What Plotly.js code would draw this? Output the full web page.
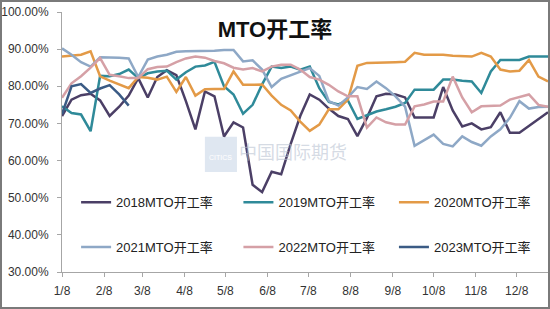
<!DOCTYPE html>
<html><head><meta charset="utf-8">
<script src="https://cdn.plot.ly/plotly-3.0.1.min.js"></script>
<style>
html,body{margin:0;padding:0;background:#fff;}
#wrap{position:relative;width:550px;height:309px;}
#chart{width:550px;height:309px;}
#frame{position:absolute;left:0;top:0;width:550px;height:309px;box-sizing:border-box;border:2px solid #7a7a7a;pointer-events:none;}
</style>
</head><body>
<div id="wrap"><div id="chart"></div><div id="frame"></div></div>
<script>
// weekly observation dates (generic year), ticks and labels
const firstWeek = '2001-01-08';
const weekCount = 52;
const tickDates = ['2001-01-08','2001-02-08','2001-03-08','2001-04-08','2001-05-08','2001-06-08','2001-07-08','2001-08-08','2001-09-08','2001-10-08','2001-11-08','2001-12-08'];
const tickLabels = ['1/8','2/8','3/8','4/8','5/8','6/8','7/8','8/8','9/8','10/8','11/8','12/8'];
const yTicks = [30,40,50,60,70,80,90,100];
const yTickLabels = ['30.00%','40.00%','50.00%','60.00%','70.00%','80.00%','90.00%','100.00%'];

const seriesNames = ['2018MTO开工率','2019MTO开工率','2020MTO开工率','2021MTO开工率','2022MTO开工率','2023MTO开工率'];

const v2018 = [72,76.4,77.6,78,76.2,72,74.5,77.5,82.2,77,82.5,84.3,83,76,68.4,78.6,77.3,66.5,70.3,68.9,53.5,51.5,57,56.3,64.5,72,77.8,76.4,74,72,71.2,66.6,71.5,77.3,78,77.8,77,71.6,71.6,71.6,79.8,73.5,69.2,70,68.4,69,73,67.5,67.5,69.3,71.3,73];
const v2019 = [74.6,72.8,72.4,67.9,82.8,82.7,83.3,84.5,82.2,83.5,84,84.2,81.8,83.8,85.3,85.6,86.6,80,77.8,72.6,75,80.5,85.3,84.9,85.3,84.5,85.3,79.5,75.8,75.1,76.2,71.2,72.2,73.2,73.8,74.5,75.5,79.1,79.1,79.1,81.8,81.8,81.5,81.3,78.2,84,87.1,87.1,87.1,88,88,88];
const v2020 = [88,88.3,88.5,89.4,82.7,81.5,80.4,79.5,82.5,82.3,81.8,82.6,78.5,82.5,77.5,79.2,79.3,79.3,84,80.4,80.4,80.5,77.5,75,73.5,70.5,68,69.7,73.8,73.8,76.4,85.5,86.3,86.3,86.4,86.5,86.6,89,88.5,88.5,88.5,88.2,88,88,89,88,84.5,84,84.2,87.1,82.6,81.3];
const v2021 = [90.2,88.5,86.5,85.3,87.8,87.8,87.7,87.5,82.5,87.2,88,88.5,89.3,89.4,89.4,89.5,89.6,89.8,89.8,86.7,87,84.5,79.8,82,83,84,84.9,82.8,76,74.8,77,79.8,79.3,81.3,79.5,77.3,74.5,64,65.5,67,64.5,63.8,66.5,65,64,66.5,68.4,71.5,76,74,74.4,74.5];
const v2022 = [76.9,80.8,82.7,85,87.6,83.1,82.7,82.2,82.2,84.6,85.2,85.3,86.5,87.5,88,87.7,86.8,86.2,85,84.5,84.9,84,85.3,85.8,85.8,84.5,82.5,81.8,80.4,78.6,77.3,77.3,68.9,71.6,70.3,69.7,69.7,74.6,75.1,75.9,75.9,82.6,77,73,74.6,74.6,74.8,76.4,77.2,77.8,75,74.5];
const v2023 = [72.5,80,80.6,78.2,79.4,80.3,77.8,74.8];

const colors = ['#4b3f66','#2f8a99','#e39a47','#8ea8c6','#d5a0a6','#3b5b85'];
const legendIds = ['legend','legend2','legend3','legend','legend2','legend3'];

function weekDates(n){
  const out=[]; const d0=new Date(firstWeek+'T00:00:00Z');
  for(let i=0;i<n;i++){const d=new Date(d0.getTime()+i*7*86400000); out.push(d.toISOString().slice(0,10));}
  return out;
}
const dates = weekDates(weekCount);
const allValues = [v2018,v2019,v2020,v2021,v2022,v2023];

const traces = allValues.map((vals,k)=>({
  type:'scatter', mode:'lines', name:seriesNames[k],
  x: dates.slice(0, vals.length), y: vals,
  line:{color:colors[k], width:2.5},
  legend: legendIds[k], legendgroup: 'g'+k
}));

const fontFam = '"Liberation Sans", Arial, "Noto Sans CJK SC", sans-serif';
const legBase = {yanchor:'top', xanchor:'left', bgcolor:'rgba(0,0,0,0)', font:{size:13, color:'#222', family:fontFam}, tracegroupgap:25, orientation:'v', y:0.326};

const layout = {
  width:550, height:309,
  margin:{l:62, r:2, t:12, b:37},
  paper_bgcolor:'#fff', plot_bgcolor:'#fff',
  font:{family:fontFam, color:'#333', size:12},
  title:{text:'<b>MTO开工率</b>', x:0.5, xref:'container', y:0.905, yref:'container', yanchor:'middle', xanchor:'center', font:{size:22, color:'#111', family:fontFam}},
  xaxis:{type:'date', range:['2001-01-08','2001-12-31'], tickvals:tickDates, ticktext:tickLabels, showgrid:false, zeroline:false,
    showline:true, linecolor:'#a6a6a6', linewidth:1, ticks:'outside', ticklen:4, tickcolor:'#a6a6a6', tickfont:{size:12, color:'#333'}, ticklabelstandoff:4},
  yaxis:{range:[30,100], tickvals:yTicks, ticktext:yTickLabels, showgrid:false, zeroline:false,
    showline:true, linecolor:'#a6a6a6', linewidth:1, ticks:'outside', ticklen:4, tickcolor:'#a6a6a6', tickfont:{size:12, color:'#333'}, ticklabelstandoff:6},
  legend:Object.assign({}, legBase, {x:0.029}),
  legend2:Object.assign({}, legBase, {x:0.363}),
  legend3:Object.assign({}, legBase, {x:0.683}),
  shapes:[{type:'rect', xref:'paper', yref:'paper', x0:0.294, x1:0.36, y0:0.385, y1:0.52, fillcolor:'#dfe7f1', line:{width:0}, layer:'below'}],
  annotations:[
    {text:'中国国际期货', xref:'paper', yref:'paper', x:0.36, y:0.465, xanchor:'left', yanchor:'middle', showarrow:false, font:{size:18, color:'rgba(185,195,210,0.6)', family:'"Noto Sans CJK SC", sans-serif'}},
    {text:'CITICS', xref:'paper', yref:'paper', x:0.327, y:0.44, xanchor:'center', yanchor:'middle', showarrow:false, font:{size:7, color:'#ffffff'}}
  ],
  showlegend:true
};

Plotly.newPlot('chart', traces, layout, {staticPlot:true, displayModeBar:false});
</script>
</body></html>
